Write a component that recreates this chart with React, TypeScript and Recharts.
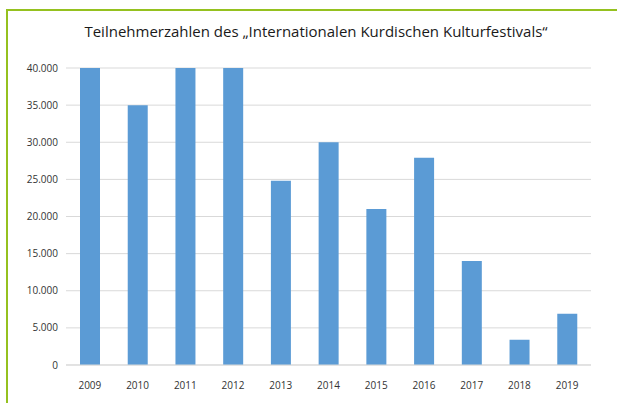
import React from "react";
import { BarChart, Bar, XAxis, YAxis, CartesianGrid } from "recharts";

const years = ["2009", "2010", "2011", "2012", "2013", "2014", "2015", "2016", "2017", "2018", "2019"];
const participants = [40000, 35000, 40000, 40000, 24800, 30000, 21000, 27900, 14000, 3400, 6900];
const yTicks = [0, 5000, 10000, 15000, 20000, 25000, 30000, 35000, 40000];
const title = "Teilnehmerzahlen des „Internationalen Kurdischen Kulturfestivals“";

const data = years.map((y, i) => ({ year: y, value: participants[i] }));

const fmt = (v: number) => String(v).replace(/\B(?=(\d{3})+(?!\d))/g, ".");

export default function App() {
  return (
    <div style={{ position: "absolute", left: 0, top: 0, width: 617, height: 403, background: "#fff", overflow: "hidden" }}>
      <div style={{ position: "absolute", left: 6, top: 9, width: 611, height: 2, background: "#95c11f" }} />
      <div style={{ position: "absolute", left: 6, top: 9, width: 2, height: 394, background: "#95c11f" }} />
      <div
        style={{
          position: "absolute",
          left: 0,
          width: 632,
          top: 21,
          textAlign: "center",
          fontFamily: "'Open Sans', sans-serif",
          fontSize: 15,
          color: "#1a1a1a",
          whiteSpace: "nowrap",
        }}
      >
        {title}
      </div>
      <div style={{ position: "absolute", left: 0, top: 0 }}>
        <BarChart
          width={617}
          height={403}
          data={data}
          margin={{ top: 68, right: 26, bottom: 0, left: 0 }}
          barCategoryGap={0}
        >
          <CartesianGrid vertical={false} stroke="#d9d9d9" />
          <XAxis
            dataKey="year"
            axisLine={{ stroke: "#d9d9d9" }}
            tickLine={false}
            tickMargin={11}
            height={38}
            interval={0}
            tick={{ fontSize: 10, fill: "#333", fontFamily: "'Open Sans', sans-serif" }}
          />
          <YAxis
            width={66}
            domain={[0, 40000]}
            ticks={yTicks}
            axisLine={false}
            tickLine={false}
            tickFormatter={fmt}
            interval={0}
            tick={{ fontSize: 10, fill: "#333", fontFamily: "'Open Sans', sans-serif" }}
          />
          <Bar dataKey="value" fill="#5b9bd5" barSize={20} isAnimationActive={false} />
        </BarChart>
      </div>
    </div>
  );
}
